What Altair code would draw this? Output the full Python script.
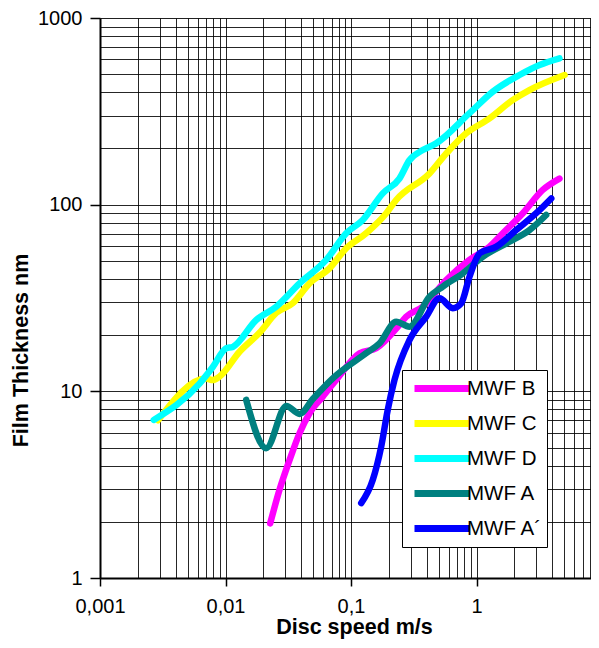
import altair as alt
import pandas as pd

# ---- data (disc speed m/s, film thickness nm) ----
b_speed = [0.0227, 0.0269, 0.0324, 0.0389, 0.0467, 0.0596, 0.0762, 0.117, 0.159, 0.243, 0.275, 0.373, 0.574, 0.879, 1.27, 1.62, 2.34, 3.37, 4.58]
b_thick = [1.96, 2.96, 4.29, 5.97, 7.63, 9.37, 11.5, 16.0, 17.0, 22.7, 25.1, 28.4, 39.5, 50.6, 59.6, 70.3, 90, 120, 138]

c_speed = [0.0029, 0.00702, 0.00792, 0.00896, 0.01294, 0.01866, 0.02535, 0.0344, 0.0467, 0.0674, 0.0916, 0.132, 0.191, 0.229, 0.422, 0.574, 0.828, 1.27, 1.95, 2.64, 5.03]
c_thick = [7.0, 11.7, 11.5, 12.0, 16.3, 20.6, 26.3, 29.7, 37.9, 45.6, 58.4, 70.3, 90, 106, 147, 188, 241, 290, 364, 411, 495]

d_speed = [0.00268, 0.00621, 0.00792, 0.01013, 0.01143, 0.01757, 0.02535, 0.0389, 0.0634, 0.0916, 0.124, 0.179, 0.243, 0.292, 0.373, 0.477, 0.879, 1.35, 2.20, 3.18, 4.58]
d_thick = [7.03, 11.0, 13.5, 17.0, 17.3, 24.1, 28.4, 37.9, 50.6, 70.3, 82.8, 115, 138, 173, 196, 213, 309, 403, 495, 560, 608]

a_speed = [0.01462, 0.0211, 0.0305, 0.0389, 0.0496, 0.0716, 0.132, 0.169, 0.229, 0.292, 0.422, 0.539, 0.778, 1.12, 1.83, 2.64, 3.59]
a_thick = [9.0, 4.96, 8.35, 7.57, 9.1, 11.75, 16.0, 18.1, 23.6, 22.2, 32.1, 36.4, 42.9, 52.6, 63.3, 73.1, 88.1]

a2_speed = [0.1206, 0.149, 0.174, 0.196, 0.222, 0.292, 0.397, 0.507, 0.647, 0.755, 0.879, 1.06, 1.44, 2.07, 2.99, 3.94]
a2_thick = [2.52, 3.35, 5.06, 7.94, 11.5, 18.8, 25.1, 31.5, 27.9, 29.6, 41.1, 54.9, 59.6, 73.1, 90, 108]

series_names = ["MWF B", "MWF C", "MWF D", "MWF A", "MWF A\u00b4"]
series_colors = ["#FF00FF", "#FFFF00", "#00FFFF", "#008080", "#0000FF"]

X_MIN, X_MAX = 0.001, 8.17   # the reference picture is cut just short of 10
x_grid = [k * 10.0 ** e for e in range(-3, 1) for k in range(1, 10)]
x_grid = [v for v in x_grid if v <= X_MAX]
y_grid = [k * 10.0 ** e for e in range(0, 3) for k in range(1, 10)] + [1000.0]

rows = []
for name, xs, ys in zip(series_names,
                        [b_speed, c_speed, d_speed, a_speed, a2_speed],
                        [b_thick, c_thick, d_thick, a_thick, a2_thick]):
    for i, (xv, yv) in enumerate(zip(xs, ys)):
        rows.append({"series": name, "speed": xv, "thick": yv, "order": i})
df = pd.DataFrame(rows)

FONT = "Liberation Sans"
decade = "abs(log(datum.value)/LN10 - round(log(datum.value)/LN10)) < 0.000001"
label_expr = f"({decade}) ? replace(format(datum.value, ''), '.', ',') : ''"
tick_op = {"condition": {"test": decade, "value": 1}, "value": 0}

x_axis = alt.Axis(
    values=x_grid, labelExpr=label_expr, grid=True, gridColor="#000000",
    gridWidth=1, gridOpacity=0.85, tickOpacity=tick_op, tickColor="#000000",
    tickSize=8, tickWidth=1.5, labelFont=FONT, labelFontSize=20,
    labelColor="#000000", labelPadding=10, labelOverlap=False, labelFlush=False,
    domainColor="#000000", domainWidth=2, title="Disc speed m/s",
    titleFont=FONT, titleFontSize=21.5, titleFontWeight="bold",
    titleColor="#000000", titlePadding=0, titleX=254,
)
y_axis = alt.Axis(
    values=y_grid, labelExpr=label_expr, grid=True, gridColor="#000000",
    gridWidth=1, gridOpacity=0.85, tickOpacity=tick_op, tickColor="#000000",
    tickSize=10, tickWidth=1.5, labelFont=FONT, labelFontSize=20,
    labelColor="#000000", labelPadding=8, labelOverlap=False, labelFlush=False,
    domainColor="#000000", domainWidth=2, title="Film Thickness nm",
    titleFont=FONT, titleFontSize=21.5, titleFontWeight="bold",
    titleColor="#000000", titlePadding=5, titleY=332,
)

chart = alt.Chart(df).mark_line(
    strokeWidth=6.5, strokeCap="round", strokeJoin="round",
    interpolate="monotone", clip=True,
).encode(
    x=alt.X("speed:Q", scale=alt.Scale(type="log", domain=[X_MIN, X_MAX], nice=False), axis=x_axis),
    y=alt.Y("thick:Q", scale=alt.Scale(type="log", domain=[1, 1000], nice=False), axis=y_axis),
    color=alt.Color(
        "series:N",
        scale=alt.Scale(domain=series_names, range=series_colors),
        legend=alt.Legend(
            title=None, orient="none", legendX=302, legendY=352,
            fillColor="#FFFFFF", strokeColor="#000000", padding=4,
            symbolType="M-1,0H4", symbolSize=484, symbolStrokeWidth=7,
            symbolOffset=5, labelOffset=27,
            labelFont=FONT, labelFontSize=20.5, labelColor="#000000",
            rowPadding=6,
        ),
    ),
    order="order:Q",
).properties(
    width=491, height=560,
    autosize=alt.AutoSizeParams(type="none"),
    padding={"left": 92, "top": 10, "right": 0, "bottom": 62},
).configure_view(
    stroke="#808080", strokeWidth=2
).configure(background="#FFFFFF")

chart.save("out.html", embed_options={"renderer": "svg", "actions": False})
